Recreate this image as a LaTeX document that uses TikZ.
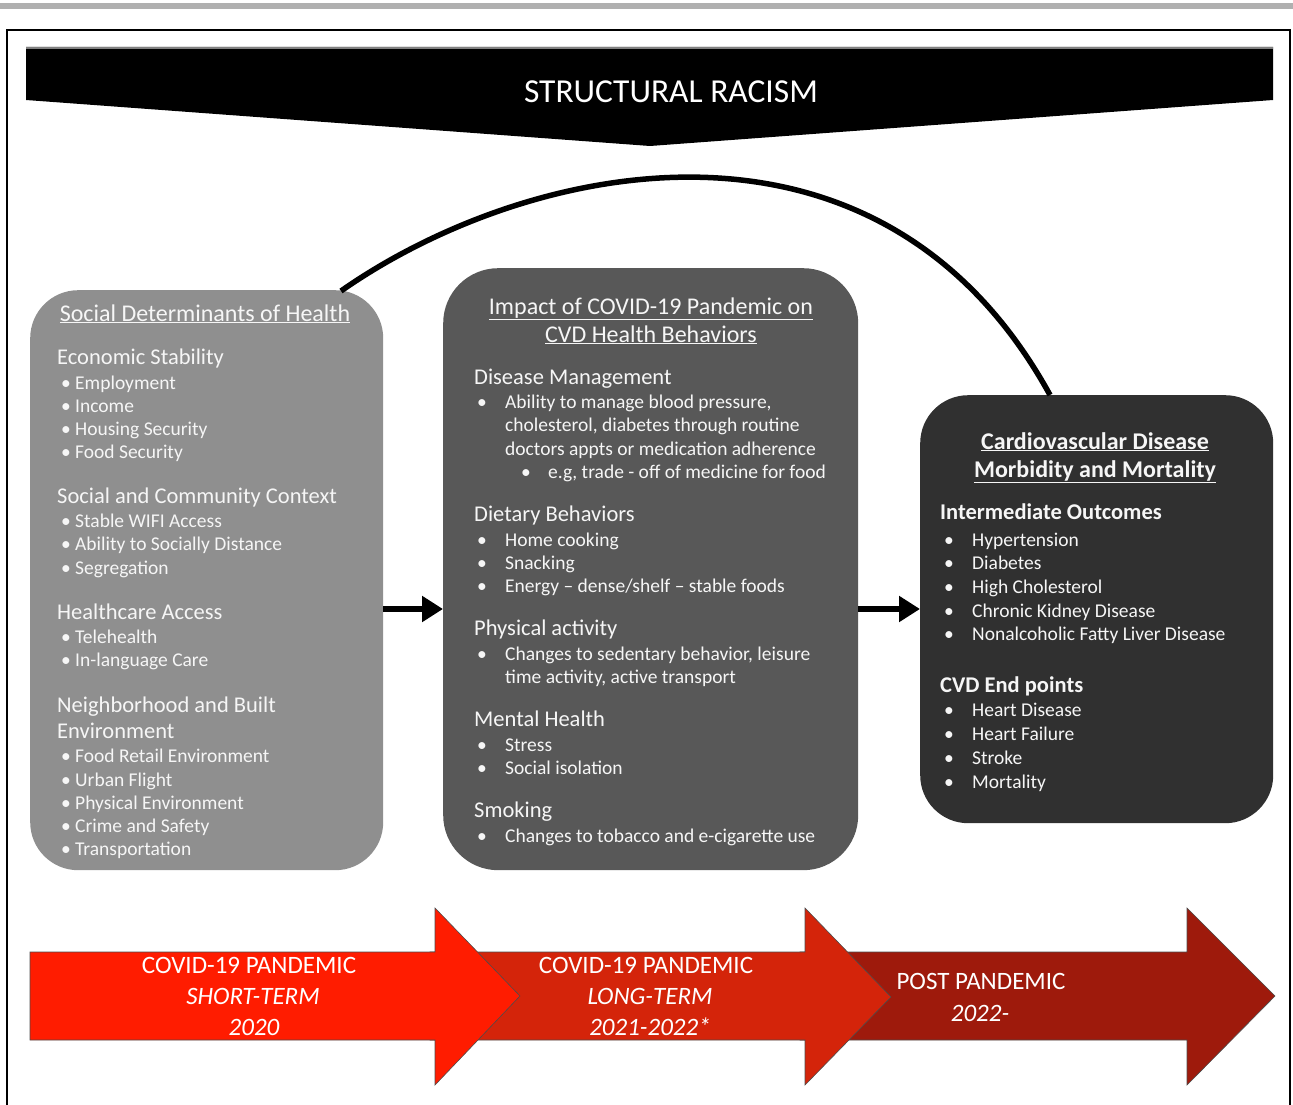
\documentclass[tikz,border=0pt]{standalone}
\usepackage{fontspec}
\setmainfont{Carlito}
\usetikzlibrary{arrows.meta}
\definecolor{lgray}{RGB}{143,143,143}
\definecolor{mgray}{RGB}{88,88,88}
\definecolor{dgray}{RGB}{48,48,48}
\definecolor{redA}{RGB}{255,28,0}
\definecolor{redB}{RGB}{212,36,10}
\definecolor{redC}{RGB}{158,26,12}
\definecolor{topline}{RGB}{176,176,176}
\definecolor{txtw}{RGB}{246,246,246}
\newcommand\itmfont{\fontsize{19.5}{23}\selectfont}
\newcommand\bitem[5]{% name, bullet x, text x, y, text
  \node[itm] (#1) at (#3,#4) {#5};
  \node[itm] (#1b) at (#2,#4) {\textbullet};}
\begin{document}
\begin{tikzpicture}[x=1pt,y=-1pt,
  box/.style={rounded corners=48pt, inner sep=0pt, anchor=north west},
  itm/.style={inner sep=0pt, anchor=base west, text=txtw, font=\itmfont},
  hd/.style={inner sep=0pt, anchor=base west, text=txtw, font=\fontsize{22.5}{26}\selectfont},
  ttl/.style={inner sep=0pt, anchor=base, text=txtw, font=\fontsize{24}{28}\selectfont},
  conn/.style={line width=6.5pt, -{Triangle[length=21pt,width=25pt]}},
  tarrow/.style={draw=black!70, line width=0.6pt},
  atext/.style={inner sep=0pt, anchor=base, text=white, font=\fontsize{25}{29}\selectfont}]
\useasboundingbox (0,0) rectangle (1293,1105);
% top rule and frame
\fill[topline] (0,3) rectangle (1293,9);
\draw[line width=1.4pt] (7,1105) -- (7,30) -- (1290,30) -- (1290,1105);
% banner
\fill[black] (26,47) -- (1273,47) -- (1273,100) -- (650,146) -- (26,100) -- cycle;
\fill[gray] (26,47) rectangle (1273,49);
\node[inner sep=0pt, text=white, font=\fontsize{33.5}{37}\selectfont] (sr) at (671,92) {STRUCTURAL RACISM};
% boxes
\node[box, fill=lgray, minimum width=353pt, minimum height=580pt] (L) at (30,290) {};
\node[box, fill=mgray, minimum width=415pt, minimum height=602pt, rounded corners=55pt] (M) at (443,268) {};
\node[box, fill=dgray, minimum width=353pt, minimum height=428pt] (R) at (920,395) {};
% arc
\coordinate (arcS) at (341,291);
\coordinate (arcE) at (1050,395);
\draw[line width=5.5pt] (arcS) .. controls (525,162) and (878,82) .. (arcE);
% connectors
\coordinate (ay) at (0,609);
\draw[conn] (L.east |- ay) -- (M.west |- ay);
\draw[conn] (M.east |- ay) -- (R.west |- ay);
% left box text
\node[ttl] (Lt) at (205,321) {\underline{Social Determinants of Health}};
\node[hd] (L1) at (57,364) {Economic Stability};
\bitem{L1a}{61}{75}{389}{Employment}
\bitem{L1b}{61}{75}{412}{Income}
\bitem{L1c}{61}{75}{435}{Housing Security}
\bitem{L1d}{61}{75}{458}{Food Security}
\node[hd] (L2) at (57,503) {Social and Community Context};
\bitem{L2a}{61}{75}{527}{Stable WIFI Access}
\bitem{L2b}{61}{75}{550}{Ability to Socially Distance}
\bitem{L2c}{61}{75}{574}{Segregation}
\node[hd] (L3) at (57,619) {Healthcare Access};
\bitem{L3a}{61}{75}{643}{Telehealth}
\bitem{L3b}{61}{75}{666}{In-language Care}
\node[hd] (L4) at (57,712) {Neighborhood and Built};
\node[hd] (L4x) at (57,738) {Environment};
\bitem{L4a}{61}{75}{762}{Food Retail Environment}
\bitem{L4b}{61}{75}{786}{Urban Flight}
\bitem{L4c}{61}{75}{809}{Physical Environment}
\bitem{L4d}{61}{75}{832}{Crime and Safety}
\bitem{L4e}{61}{75}{855}{Transportation}
% middle box text
\node[ttl] (Mt1) at (651,314) {\underline{Impact of COVID-19 Pandemic on}};
\node[ttl] (Mt2) at (651,342) {\underline{CVD Health Behaviors}};
\node[hd] (M1) at (474,384) {Disease Management};
\bitem{M1a}{477}{505}{408}{Ability to manage blood pressure,}
\node[itm] (M1a2) at (505,431) {cholesterol, diabetes through routine};
\node[itm] (M1a3) at (505,455) {doctors appts or medication adherence};
\bitem{M1b}{521}{548}{478}{e.g, trade - off of medicine for food}
\node[hd] (M2) at (474,521) {Dietary Behaviors};
\bitem{M2a}{477}{505}{546}{Home cooking}
\bitem{M2b}{477}{505}{569}{Snacking}
\bitem{M2c}{477}{505}{592}{Energy – dense/shelf – stable foods}
\node[hd] (M3) at (474,635) {Physical activity};
\bitem{M3a}{477}{505}{660}{Changes to sedentary behavior, leisure}
\node[itm] (M3a2) at (505,683) {time activity, active transport};
\node[hd] (M4) at (474,726) {Mental Health};
\bitem{M4a}{477}{505}{751}{Stress}
\bitem{M4b}{477}{505}{774}{Social isolation}
\node[hd] (M5) at (474,817) {Smoking};
\bitem{M5a}{477}{505}{842}{Changes to tobacco and e-cigarette use}
% right box text
\node[ttl,font=\fontsize{24}{28}\selectfont\bfseries] (Rt1) at (1095,449) {\underline{Cardiovascular Disease}};
\node[ttl,font=\fontsize{24}{28}\selectfont\bfseries] (Rt2) at (1095,477) {\underline{Morbidity and Mortality}};
\node[hd,font=\fontsize{22.5}{26}\selectfont\bfseries] (R1) at (940,519) {Intermediate Outcomes};
\bitem{R1a}{944}{972}{546}{Hypertension}
\bitem{R1b}{944}{972}{569}{Diabetes}
\bitem{R1c}{944}{972}{593}{High Cholesterol}
\bitem{R1d}{944}{972}{617}{Chronic Kidney Disease}
\bitem{R1e}{944}{972}{640}{Nonalcoholic Fatty Liver Disease}
\node[hd,font=\fontsize{22.5}{26}\selectfont\bfseries] (R2) at (940,692) {CVD End points};
\bitem{R2a}{944}{972}{716}{Heart Disease}
\bitem{R2b}{944}{972}{740}{Heart Failure}
\bitem{R2c}{944}{972}{764}{Stroke}
\bitem{R2d}{944}{972}{788}{Mortality}
% timeline arrows
\filldraw[fill=redC, tarrow] (800,952) -- (1187,952) -- (1187,908) -- (1275,996) -- (1187,1085) -- (1187,1040) -- (800,1040) -- cycle;
\filldraw[fill=redB, tarrow] (430,952) -- (805,952) -- (805,908) -- (891,997) -- (805,1085) -- (805,1040) -- (430,1040) -- cycle;
\filldraw[fill=redA, tarrow] (30,952) -- (435,952) -- (435,908) -- (520,996) -- (435,1085) -- (435,1040) -- (30,1040) -- cycle;
\node[atext] (A1a) at (249,973) {COVID-19 PANDEMIC};
\node[atext] (A1b) at (253,1004) {\itshape SHORT-TERM};
\node[atext] (A1c) at (254,1035) {\itshape 2020};
\node[atext] (A2a) at (646,973) {COVID-19 PANDEMIC};
\node[atext] (A2b) at (650,1004) {\itshape LONG-TERM};
\node[atext] (A2c) at (650,1035) {\itshape 2021-2022*};
\node[atext] (A3a) at (981,989) {POST PANDEMIC};
\node[atext] (A3b) at (980,1021) {\itshape 2022-};
\end{tikzpicture}
\end{document}
